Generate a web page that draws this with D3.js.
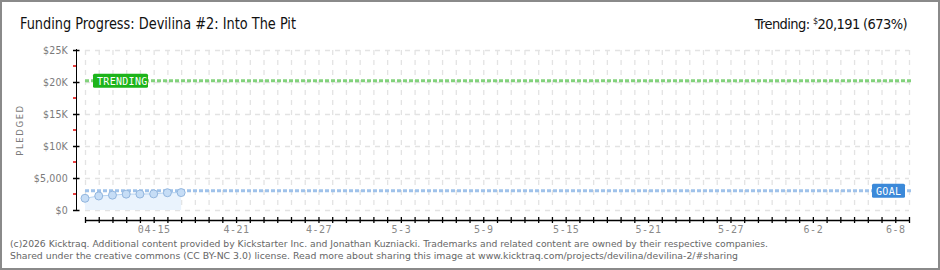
<!DOCTYPE html>
<html><head><meta charset="utf-8">
<script src="https://cdn.jsdelivr.net/npm/d3@7/dist/d3.min.js"></script>
<style>
html,body{margin:0;padding:0;background:#fff;}
svg{display:block;}
</style></head>
<body>
<svg id="c" width="940" height="270"></svg>
<script>
// ---- data ----
const pledgeDates = ["2016-04-10","2016-04-11","2016-04-12","2016-04-13","2016-04-14","2016-04-15","2016-04-16","2016-04-17"];
const pledgeValues = [1830, 2190, 2320, 2480, 2490, 2520, 2700, 2720];
const goalValue = 3000;
const trendingValue = 20191;
const yTickValues = [0, 5000, 10000, 15000, 20000, 25000];
const yTickLabels = ["$0", "$5,000", "$10K", "$15K", "$20K", "$25K"];
const yMinorValues = [2500, 7500, 12500, 17500, 22500];
const xLabelDates = ["2016-04-15","2016-04-21","2016-04-27","2016-05-03","2016-05-09","2016-05-15","2016-05-21","2016-05-27","2016-06-02","2016-06-08"];
const xTickLabels = ["04-15","4-21","4-27","5-3","5-9","5-15","5-21","5-27","6-2","6-8"];
const xStart = "2016-04-10", xEnd = "2016-06-09";
const titleText = "Funding Progress: Devilina #2: Into The Pit";
const footer1 = "(c)2026 Kicktraq. Additional content provided by Kickstarter Inc. and Jonathan Kuzniacki. Trademarks and related content are owned by their respective companies.";
const footer2 = "Shared under the creative commons (CC BY-NC 3.0) license. Read more about sharing this image at www.kicktraq.com/projects/devilina/devilina-2/#sharing";

const parse = d3.utcParse("%Y-%m-%d");
const svg = d3.select("#c");
const W = 940, H = 270;

const x = d3.scaleUtc().domain([parse(xStart), parse(xEnd)]).range([85, 909]);
const y = d3.scaleLinear().domain([0, 25000]).range([210, 50]);
const allDays = d3.utcDay.range(parse(xStart), d3.utcDay.offset(parse(xEnd), 1));

// frame
svg.append("rect").attr("x",1).attr("y",1).attr("width",W-2).attr("height",H-2)
  .attr("fill","#fff").attr("stroke","#8a8a8a").attr("stroke-width",2);

// gridlines
const grid = svg.append("g");
grid.selectAll("line.v").data(allDays).join("line")
  .attr("x1", d => x(d)+0.5).attr("x2", d => x(d)+0.5)
  .attr("y1", y(25000)).attr("y2", y(0))
  .attr("stroke","#e3e3e3").attr("stroke-width",1.3).attr("stroke-dasharray","5,5");
grid.selectAll("line.h").data(yTickValues).join("line")
  .attr("x1", x(parse(xStart))).attr("x2", x(parse(xEnd)))
  .attr("y1", d => y(d)+0.5).attr("y2", d => y(d)+0.5)
  .attr("stroke","#e3e3e3").attr("stroke-width",1.3).attr("stroke-dasharray","5,5");

// area + line
const pts = pledgeDates.map((d,i) => ({date: parse(d), v: pledgeValues[i]}));
svg.append("path").datum(pts)
  .attr("d", d3.area().x(d => x(d.date)).y0(y(0)).y1(d => y(d.v)))
  .attr("fill","#eaf3fd");
svg.append("path").datum(pts)
  .attr("d", d3.line().x(d => x(d.date)).y(d => y(d.v)))
  .attr("fill","none").attr("stroke","#b7d3f1").attr("stroke-width",1);

// goal line
svg.append("line").attr("x1", x(parse(xStart))).attr("x2", x(parse(xEnd))+2)
  .attr("y1", y(goalValue)).attr("y2", y(goalValue))
  .attr("stroke","#9fc2ea").attr("stroke-width",3).attr("stroke-dasharray","4,2");
// trending line
svg.append("line").attr("x1", x(parse(xStart))).attr("x2", x(parse(xEnd))+2)
  .attr("y1", y(trendingValue)).attr("y2", y(trendingValue))
  .attr("stroke","#82d27c").attr("stroke-width",3).attr("stroke-dasharray","4,2");

// points
svg.selectAll("circle.p").data(pts).join("circle")
  .attr("cx", d => x(d.date)).attr("cy", d => y(d.v)).attr("r", 4)
  .attr("fill","#c6ddf6").attr("stroke","#93b6de").attr("stroke-width",1);

// labels on lines
function tag(x0, yc, w, text, fill) {
  const g = svg.append("g");
  g.append("rect").attr("x", x0).attr("y", yc-7).attr("width", w).attr("height", 14)
    .attr("rx",1.5).attr("fill", fill);
  g.append("text").attr("x", x0+4).attr("y", yc+4)
    .attr("fill","#fff").attr("font-family","DejaVu Sans Mono, monospace")
    .attr("font-size",10).attr("letter-spacing",0.3).text(text);
}
tag(x(parse(xStart))+8, y(trendingValue), 55, "TRENDING", "#1db41a");
tag(x(parse(xEnd))-37, y(goalValue), 33, "GOAL", "#3b89d9");

// y axis
const yAxis = svg.append("g").attr("transform","translate(76,0)")
  .call(d3.axisLeft(y).tickValues(yTickValues).tickSize(3).tickFormat((d,i) => yTickLabels[i]));
yAxis.select(".domain").attr("stroke","#000").attr("d","M0.5,"+(y(25000)-1)+"V"+(y(0)+1));
yAxis.selectAll(".tick line").attr("x1",3.5).attr("x2",-3).attr("stroke","#000").attr("stroke-width",1.5);
yAxis.selectAll(".tick text").attr("x",-8).attr("fill","#7a7a7a")
  .attr("font-family","DejaVu Sans Condensed, DejaVu Sans").attr("font-size",10.5).attr("letter-spacing",0.2);
svg.append("g").selectAll("line").data(yMinorValues).join("line")
  .attr("x1",73).attr("x2",76).attr("y1", d => y(d)).attr("y2", d => y(d))
  .attr("stroke","#e00000").attr("stroke-width",1.5);

// x axis
const labelMap = new Map(xLabelDates.map((d,i) => [+parse(d), xTickLabels[i]]));
const xAxis = svg.append("g").attr("transform","translate(0,220)")
  .call(d3.axisBottom(x).tickValues(allDays).tickSize(3).tickFormat(d => labelMap.get(+d) || ""));
xAxis.select(".domain").attr("stroke","#000").attr("stroke-width",1.3).attr("d","M"+x(parse(xStart))+",0.5H"+(x(parse(xEnd))+1));
xAxis.selectAll(".tick line").attr("y1",-3).attr("y2",3).attr("stroke","#000").attr("stroke-width",1.3);
xAxis.selectAll(".tick text").attr("y",6).attr("fill","#8a8a8a")
  .attr("font-family","DejaVu Sans Mono, monospace").attr("font-size",10).attr("letter-spacing",0.5);

// y title
svg.append("text").attr("transform","translate(23,130) rotate(-90)")
  .attr("text-anchor","middle").attr("fill","#7a7a7a")
  .attr("font-family","DejaVu Sans, sans-serif").attr("font-size",8.5).attr("letter-spacing",1.6)
  .text("PLEDGED");

// title
svg.append("text").attr("x",20).attr("y",29)
  .attr("font-family","DejaVu Sans Condensed, DejaVu Sans").attr("font-size",15).attr("fill","#111")
  .attr("textLength",276).attr("lengthAdjust","spacingAndGlyphs").text(titleText);

// trending right
const tr = svg.append("text").attr("x",907).attr("y",29).attr("text-anchor","end")
  .attr("font-family","DejaVu Sans Condensed, DejaVu Sans").attr("font-size",14.5)
  .attr("letter-spacing",-0.6).attr("fill","#111");
tr.append("tspan").text("Trending:  ");
tr.append("tspan").attr("font-size",9).attr("dy",-5).text("$");
tr.append("tspan").attr("dy",5).text(d3.format(",")(trendingValue) + " (" + Math.round(trendingValue/goalValue*100) + "%)");

// footer
svg.append("text").attr("x",10).attr("y",247).attr("fill","#666")
  .attr("font-family","DejaVu Sans, Verdana, sans-serif").attr("font-size",9.5)
  .attr("textLength",758).attr("lengthAdjust","spacingAndGlyphs").text(footer1);
svg.append("text").attr("x",10).attr("y",259).attr("fill","#666")
  .attr("font-family","DejaVu Sans, Verdana, sans-serif").attr("font-size",9.5)
  .attr("textLength",728).attr("lengthAdjust","spacingAndGlyphs").text(footer2);
</script>
</body></html>
